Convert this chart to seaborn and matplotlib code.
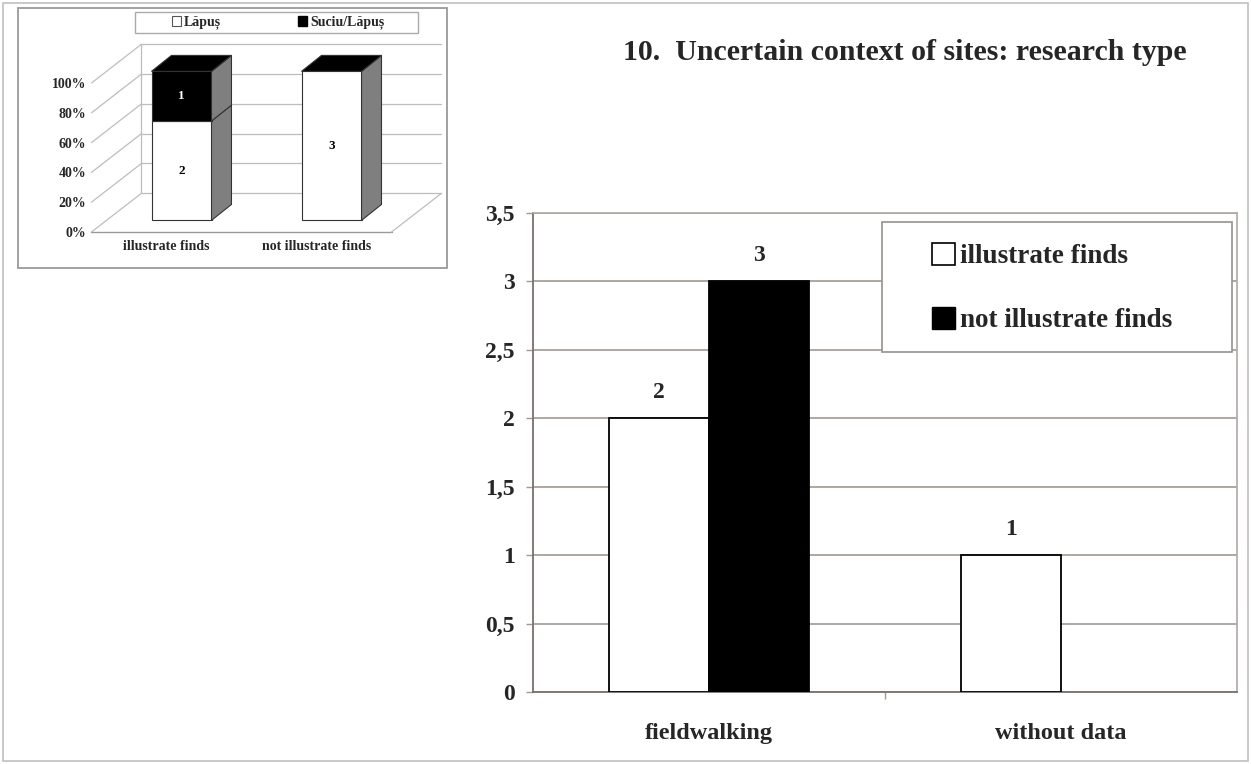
import numpy as np
import pandas as pd
import matplotlib
matplotlib.use('Agg')
import matplotlib.pyplot as plt
import seaborn as sns
from matplotlib.patches import Rectangle, Polygon, Patch

# main chart data
research = ['fieldwalking', 'without data']
illustrate = [2, 1]
not_illustrate = [3, 0]
series_names = ['illustrate finds', 'not illustrate finds']
y_ticks = [0, 0.5, 1, 1.5, 2, 2.5, 3, 3.5]
y_tick_labels = ['0', '0,5', '1', '1,5', '2', '2,5', '3', '3,5']

# inset (100% stacked) data
inset_cats = ['illustrate finds', 'not illustrate finds']
lapus = [2, 3]
suciu = [1, 0]
inset_series = ['Lăpuș', 'Suciu/Lăpuș']
pct_ticks = [0, 20, 40, 60, 80, 100]

sns.set_theme(style='white')
plt.rcParams['font.family'] = ['Liberation Serif', 'DejaVu Serif']
plt.rcParams['font.weight'] = 'bold'

W, H = 1251, 764
fig = plt.figure(figsize=(W / 100, H / 100), dpi=100)
fig.patch.set_facecolor('white')

grid_c = '#a39893'

# ---- main chart ----
df = pd.DataFrame({
    'research': research * 2,
    'value': illustrate + not_illustrate,
    'kind': [series_names[0]] * 2 + [series_names[1]] * 2,
})
ax = fig.add_axes([533 / W, 1 - 692 / H, 704 / W, 479 / H])
sns.barplot(data=df, x='research', y='value', hue='kind', hue_order=series_names,
            palette=['white', 'black'], width=0.57, errorbar=None,
            edgecolor='black', linewidth=1.3, saturation=1, ax=ax, legend=False, zorder=3)
for p in ax.patches:
    if p.get_height() == 0:
        p.set_linewidth(0)
for cont in ax.containers:
    labels = [f'{v:g}' if v > 0 else '' for v in cont.datavalues]
    ax.bar_label(cont, labels=labels, padding=11, fontsize=17, fontweight='bold')

ax.set_ylim(0, 3.5)
ax.set_xlim(-0.5, 1.5)
ax.set_yticks(y_ticks)
ax.set_yticklabels(y_tick_labels)
ax.yaxis.grid(True, color=grid_c, linewidth=1.2)
ax.set_axisbelow(True)
ax.set_xlabel('')
ax.set_ylabel('')
ax.set_xticks([0.5], minor=True)
ax.tick_params(axis='y', length=5, width=1, color=grid_c, pad=8, labelsize=17, left=True)
ax.tick_params(axis='x', which='major', length=0, pad=22, labelsize=17.5)
ax.tick_params(axis='x', which='minor', length=5, color=grid_c, bottom=True)
for lab in ax.get_xticklabels() + ax.get_yticklabels():
    lab.set_fontweight('bold')
for s in ['left', 'bottom']:
    ax.spines[s].set_color('#7a706c')
    ax.spines[s].set_linewidth(1.3)
for s in ['top', 'right']:
    ax.spines[s].set_color('#b0a8a5')
    ax.spines[s].set_linewidth(1.2)

# legend box (white, covers gridlines) + frameless legend inside it
fig.patches.append(Rectangle((882 / W, 1 - 352 / H), 350 / W, 130 / H, transform=fig.transFigure,
                             facecolor='white', edgecolor='#9a908c', lw=1.2, zorder=5))
handles = [Patch(facecolor='white', edgecolor='black', linewidth=1.2),
           Patch(facecolor='black', edgecolor='black')]
leg = fig.legend(handles, series_names, loc='upper left',
                 bbox_to_anchor=(932 / W, 1 - 243 / H),
                 prop={'family': 'Liberation Serif', 'weight': 'bold', 'size': 19.5},
                 handlelength=0.85, handleheight=0.85, handletextpad=0.2,
                 labelspacing=1.4, borderpad=0, borderaxespad=0,
                 fancybox=False, frameon=False)
leg.set_zorder(6)

fig.text(905 / W, 1 - 52 / H, '10.  Uncertain context of sites: research type',
         ha='center', va='center', fontsize=21.5, fontweight='bold')

# ---- inset: pseudo 3D 100% stacked bars ----
DX, DY = 0.333, 26.0        # full depth offset of the back wall
OX, OY = 0.1, 7.8           # bars placed partway into the depth
BDX, BDY = 0.133, 10.7      # bar depth
BW = 0.4
wall_c = '#bdbdbd'

ins = fig.add_axes([91.5 / W, 1 - 232 / H, 350 / W, 190 / H])
ins.set_xlim(-0.5, 1.5 + DX)
ins.set_ylim(0, 127.5)
for s in ins.spines.values():
    s.set_visible(False)
ins.set_facecolor('none')

for k in pct_ticks:
    ins.plot([-0.5 + DX, 1.5 + DX], [k + DY, k + DY], color=wall_c, lw=0.9, zorder=1)
    ins.plot([-0.5, -0.5 + DX], [k, k + DY], color=wall_c, lw=0.9, zorder=1, clip_on=False)
ins.plot([-0.5 + DX, -0.5 + DX], [DY, 100 + DY], color=wall_c, lw=0.9, zorder=1)
ins.plot([-0.5, 1.5], [0, 0], color='#999999', lw=1.0, zorder=1, clip_on=False)
ins.plot([1.5, 1.5 + DX], [0, DY], color=wall_c, lw=0.9, zorder=1, clip_on=False)

totals = np.array(lapus) + np.array(suciu)
stack = [np.array(lapus) / totals * 100, np.array(suciu) / totals * 100]
raw = [lapus, suciu]
face_cols = ['white', 'black']
text_cols = ['black', 'white']
for i in range(len(inset_cats)):
    x0 = i - BW / 2 + OX
    x1 = x0 + BW
    bottom = 0.0
    for s in range(2):
        h = stack[s][i]
        if h > 0:
            ins.add_patch(Rectangle((x0, bottom + OY), BW, h, facecolor=face_cols[s],
                                    edgecolor='#333333', lw=0.8, zorder=3))
            ins.add_patch(Polygon([(x1, bottom + OY), (x1 + BDX, bottom + OY + BDY),
                                   (x1 + BDX, bottom + h + OY + BDY), (x1, bottom + h + OY)],
                                  closed=True, facecolor='#7f7f7f', edgecolor='#333333',
                                  lw=0.8, zorder=3))
            ins.text(i + OX, bottom + h / 2 + OY, str(raw[s][i]), ha='center', va='center',
                     fontsize=9.5, fontweight='bold', color=text_cols[s], zorder=4)
        bottom += h
    top = bottom + OY
    ins.add_patch(Polygon([(x0, top), (x1, top), (x1 + BDX, top + BDY), (x0 + BDX, top + BDY)],
                          closed=True, facecolor='black', edgecolor='#333333', lw=0.8, zorder=3))

ins.set_yticks(pct_ticks)
ins.set_yticklabels([f'{k}%' for k in pct_ticks])
ins.set_xticks(range(len(inset_cats)))
ins.set_xticklabels(inset_cats)
ins.tick_params(axis='both', length=0, labelsize=10)
ins.tick_params(axis='y', pad=4)
ins.tick_params(axis='x', pad=6)
for lab in ins.get_xticklabels() + ins.get_yticklabels():
    lab.set_fontweight('bold')

ih = [Patch(facecolor='white', edgecolor='#555555', linewidth=0.8),
      Patch(facecolor='black', edgecolor='black')]
leg2 = fig.legend(ih, inset_series, loc='center', ncol=2,
                  bbox_to_anchor=(278 / W, 1 - 22.5 / H),
                  prop={'family': 'Liberation Serif', 'weight': 'bold', 'size': 10},
                  handlelength=0.7, handleheight=0.7, handletextpad=0.2,
                  columnspacing=5.5, borderpad=0, borderaxespad=0,
                  fancybox=False, frameon=False)
fig.patches.append(Rectangle((135 / W, 1 - 33 / H), 283 / W, 21 / H, transform=fig.transFigure,
                             fill=False, edgecolor='#aaaaaa', lw=1.0))

# inset frame and page frame
fig.patches.append(Rectangle((18 / W, 1 - 268 / H), 429 / W, 260 / H, transform=fig.transFigure,
                             fill=False, edgecolor='#9a9a9a', lw=1.3))
fig.patches.append(Rectangle((3 / W, 3 / H), 1 - 6 / W, 1 - 6 / H, transform=fig.transFigure,
                             fill=False, edgecolor='#c0c0c0', lw=1.2))

fig.savefig('out.png', dpi=100, facecolor='white')
